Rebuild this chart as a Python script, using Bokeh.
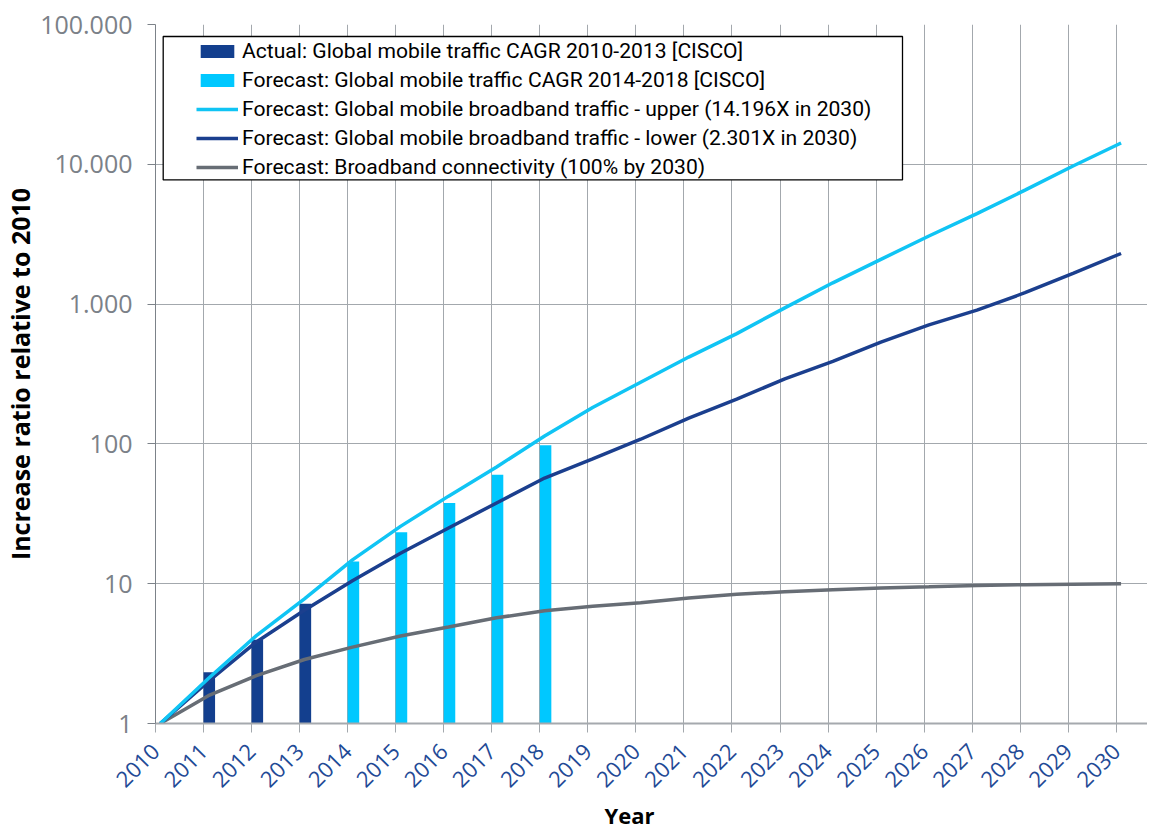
from math import pi
from bokeh.plotting import figure
from bokeh.models import (FixedTicker, Legend, LegendItem, Range1d, Title, BoxAnnotation)
from bokeh.embed import file_html
from bokeh.resources import INLINE

# ---------------- data ----------------
years = list(range(2010, 2031))
actual_years = [2011, 2012, 2013]
actual_values = [2.33, 3.97, 7.18]
forecast_years = [2014, 2015, 2016, 2017, 2018]
forecast_values = [14.4, 23.3, 37.8, 60.1, 97.7]
upper = [1, 2.1, 4.25, 7.8, 14.8, 25.7, 42.3, 68.4, 114, 182, 276, 418, 615,
         940, 1420, 2090, 3070, 4440, 6530, 9720, 14196]
lower = [1, 2.0, 3.83, 6.46, 10.5, 16.5, 25, 37.8, 57, 78, 108, 153, 209,
         292, 389, 535, 710, 905, 1206, 1660, 2301]
connectivity = [1, 1.58, 2.2, 2.87, 3.52, 4.23, 4.9, 5.7, 6.4, 6.9, 7.3, 7.9,
                8.4, 8.76, 9.05, 9.3, 9.5, 9.72, 9.84, 9.93, 10]
y_ticks = [1, 10, 100, 1000, 10000, 100000]
y_tick_labels = ["1", "10", "100", "1.000", "10.000", "100.000"]
legend_labels = [
    "Actual: Global mobile traffic CAGR 2010-2013 [CISCO]",
    "Forecast: Global mobile traffic CAGR 2014-2018 [CISCO]",
    "Forecast: Global mobile broadband traffic - upper (14.196X in 2030)",
    "Forecast: Global mobile broadband traffic - lower (2.301X in 2030)",
    "Forecast: Broadband connectivity (100% by 2030)",
]

# ---------------- style ----------------
LINE_SHIFT = 0.1
BAR_SHIFT = 0.12
BAR_WIDTH = 0.24
DARK = "#133F8E"
CYAN_BAR = "#00C8FF"
CYAN_LINE = "#10C4F4"
LOWER_LINE = "#1B3F8E"
GREY_LINE = "#676D75"
GRID = "#A3A8AD"

p = figure(width=1147, height=833,
           x_range=Range1d(2010, 2030.65), y_range=Range1d(1, 100000),
           y_axis_type="log", output_backend="svg", toolbar_location=None,
           min_border_left=153, min_border_right=0, min_border_top=24,
           min_border_bottom=110)
p.outline_line_color = None

bars_a = p.vbar(x=[y + BAR_SHIFT for y in actual_years], top=actual_values,
                bottom=1, width=BAR_WIDTH, fill_color=DARK, line_color=None)
bars_f = p.vbar(x=[y + BAR_SHIFT for y in forecast_years], top=forecast_values,
                bottom=1, width=BAR_WIDTH, fill_color=CYAN_BAR, line_color=None)
xs = [y + LINE_SHIFT for y in years]
l_con = p.line(xs, connectivity, line_color=GREY_LINE, line_width=3.5)
l_low = p.line(xs, lower, line_color=LOWER_LINE, line_width=3.5)
l_up = p.line(xs, upper, line_color=CYAN_LINE, line_width=3.5)

# axes
p.xaxis.ticker = FixedTicker(ticks=years, minor_ticks=[])
p.xaxis.major_label_orientation = pi / 4
p.xaxis.major_label_text_color = "#1F4A96"
p.xaxis.major_label_text_font = "Open Sans"
p.xaxis.major_label_text_font_size = "22px"
p.xaxis.major_tick_out = 9
p.xaxis.major_tick_in = 0
p.xaxis.major_tick_line_color = GRID
p.xaxis.axis_line_color = "#A5A9AE"
p.xaxis.axis_line_width = 2
p.xaxis.major_label_standoff = 15

p.yaxis.ticker = FixedTicker(ticks=y_ticks, minor_ticks=[])
p.yaxis.major_label_overrides = {t: l for t, l in zip(y_ticks, y_tick_labels)}
p.yaxis.major_label_text_color = "#7B8188"
p.yaxis.major_label_text_font = "Open Sans"
p.yaxis.major_label_text_font_size = "25px"
p.yaxis.major_tick_out = 8
p.yaxis.major_tick_in = 0
p.yaxis.minor_tick_line_color = None
p.yaxis.major_tick_line_color = "#7C8289"
p.yaxis.axis_line_color = "#7C8289"
p.yaxis.major_label_standoff = 15
p.yaxis.axis_label = "Increase ratio relative to 2010"
p.yaxis.axis_label_text_font = "Open Sans"
p.yaxis.axis_label_text_font_style = "bold"
p.yaxis.axis_label_text_font_size = "25px"
p.yaxis.axis_label_text_color = "black"
p.yaxis.axis_label_standoff = 0

p.xgrid.ticker = FixedTicker(ticks=years)
p.xgrid.grid_line_color = GRID
p.ygrid.grid_line_color = GRID

# legend frame
box = BoxAnnotation(left=7.7, right=747, top=687, bottom=543.6,
                    left_units="screen", right_units="screen",
                    top_units="screen", bottom_units="screen",
                    fill_color="white", fill_alpha=1.0,
                    line_color="black", line_width=1.3, line_alpha=1.0)
p.add_layout(box)

renderers = [bars_a, bars_f, l_up, l_low, l_con]
legend = Legend(items=[LegendItem(label=lab, renderers=[r])
                       for lab, r in zip(legend_labels, renderers)],
                location=(41, 542), padding=0, margin=0, spacing=0,
                glyph_width=42, glyph_height=16, label_standoff=4,
                label_height=29, label_text_font="Roboto",
                label_text_font_size="21.1px", label_text_color="black",
                border_line_color=None, background_fill_alpha=0.0)
p.add_layout(legend)

year_title = Title(text="Year", align="left", offset=449, standoff=0,
                   text_font="Open Sans", text_font_style="bold",
                   text_font_size="22px", text_color="black")
p.add_layout(year_title, "below")

open("out.html", "w").write(file_html(p, INLINE))
